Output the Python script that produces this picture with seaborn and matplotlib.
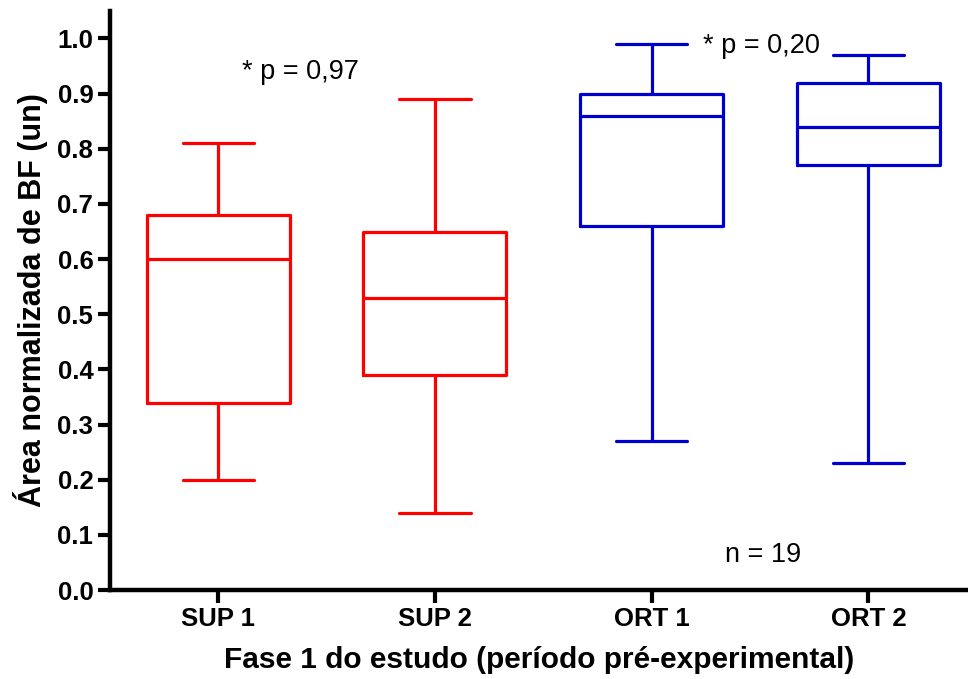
import numpy as np
import pandas as pd
import matplotlib
matplotlib.use("Agg")
import matplotlib.pyplot as plt
import seaborn as sns

categories = ["SUP 1", "SUP 2", "ORT 1", "ORT 2"]
mins = [0.20, 0.14, 0.27, 0.23]
q1s = [0.34, 0.39, 0.66, 0.77]
medians = [0.60, 0.53, 0.86, 0.84]
q3s = [0.68, 0.65, 0.90, 0.92]
maxs = [0.81, 0.89, 0.99, 0.97]
colors = ["#FF0000", "#FF0000", "#0000CC", "#0000CC"]
yticks = [0.0, 0.1, 0.2, 0.3, 0.4, 0.5, 0.6, 0.7, 0.8, 0.9, 1.0]

rows = []
for c, a, b, m, d, e in zip(categories, mins, q1s, medians, q3s, maxs):
    for v in (a, b, m, d, e):
        rows.append({"grupo": c, "valor": v})
df = pd.DataFrame(rows)

sns.set_style("ticks")
plt.rcParams["font.family"] = ["Liberation Sans", "DejaVu Sans"]
plt.rcParams.update({
    "text.color": "black", "axes.labelcolor": "black",
    "xtick.color": "black", "ytick.color": "black",
    "axes.edgecolor": "black",
})

fig = plt.figure(figsize=(9.68, 6.79), dpi=100)
ax = fig.add_axes([0.1136, 0.131, 0.8864, 0.853])

sns.boxplot(data=df, x="grupo", y="valor", hue="grupo", order=categories,
            hue_order=categories, palette=colors, fill=False, width=0.66,
            whis=(0, 100), linewidth=2.3, legend=False, ax=ax,
            showfliers=False)

ax.set_ylim(0, 1.05)
ax.set_xlim(-0.5, 3.46)
ax.set_yticks(yticks)
ax.set_yticklabels([f"{t:.1f}" for t in yticks])

for s in ["top", "right"]:
    ax.spines[s].set_visible(False)
for s in ["left", "bottom"]:
    ax.spines[s].set_linewidth(3.2)
    ax.spines[s].set_color("black")
ax.tick_params(axis="both", length=9, width=3, labelsize=18.5, pad=3,
               colors="black")
for lbl in ax.get_xticklabels() + ax.get_yticklabels():
    lbl.set_fontweight("bold")

ax.set_xlabel("Fase 1 do estudo (período pré-experimental)", fontsize=21.5,
              fontweight="bold", labelpad=11)
ax.set_ylabel("Área normalizada de BF (un)", fontsize=22, fontweight="bold",
              labelpad=7)

ax.text(0.11, 0.94, "* p = 0,97", fontsize=19.5, va="center", ha="left")
ax.text(2.235, 0.987, "* p = 0,20", fontsize=19.5, va="center", ha="left")
ax.text(2.34, 0.064, "n = 19", fontsize=19.5, va="center", ha="left")

fig.savefig("out.png", dpi=100)
